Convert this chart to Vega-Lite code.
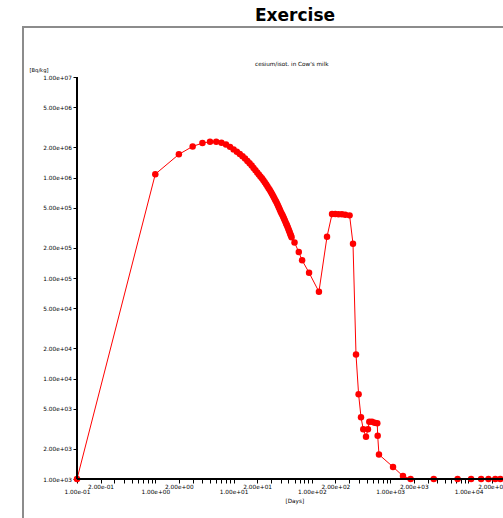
{
  "$schema": "https://vega.github.io/schema/vega-lite/v6.json",
  "autosize": "none",
  "padding": {"left": 23, "top": 27, "right": -5, "bottom": -5},
  "width": 485,
  "height": 496,
  "background": "white",
  "config": {
    "view": {"stroke": "#8c8c8c", "strokeWidth": 2},
    "font": "DejaVu Sans"
  },
  "title": {
    "text": "Exercise",
    "subtitle": "cesium/isot. in Cow's milk",
    "anchor": "start",
    "frame": "group",
    "dx": 232,
    "offset": -41,
    "font": "DejaVu Sans",
    "fontSize": 17,
    "fontWeight": "bold",
    "color": "black",
    "subtitleFont": "DejaVu Sans",
    "subtitleFontSize": 5.7,
    "subtitleColor": "black",
    "subtitlePadding": 36
  },
  "data": {
    "values": [
      {"day": 0.1, "value": 1000},
      {"day": 1, "value": 1080000},
      {"day": 2, "value": 1700000},
      {"day": 3, "value": 2040000},
      {"day": 4, "value": 2200000},
      {"day": 5, "value": 2270000},
      {"day": 6, "value": 2270000},
      {"day": 7, "value": 2213000},
      {"day": 8, "value": 2128000},
      {"day": 9, "value": 2018000},
      {"day": 10, "value": 1905000},
      {"day": 11, "value": 1807000},
      {"day": 12, "value": 1714000},
      {"day": 13, "value": 1626000},
      {"day": 14, "value": 1542000},
      {"day": 15, "value": 1462000},
      {"day": 16, "value": 1387000},
      {"day": 17, "value": 1315000},
      {"day": 18, "value": 1247000},
      {"day": 19, "value": 1183000},
      {"day": 20, "value": 1122000},
      {"day": 21, "value": 1074000},
      {"day": 22, "value": 1026000},
      {"day": 23, "value": 981700},
      {"day": 24, "value": 937600},
      {"day": 25, "value": 897400},
      {"day": 26, "value": 857000},
      {"day": 27, "value": 820400},
      {"day": 28, "value": 783400},
      {"day": 29, "value": 749900},
      {"day": 30, "value": 716100},
      {"day": 31, "value": 685500},
      {"day": 32, "value": 654600},
      {"day": 33, "value": 626600},
      {"day": 34, "value": 598400},
      {"day": 35, "value": 572800},
      {"day": 36, "value": 547000},
      {"day": 37, "value": 523600},
      {"day": 38, "value": 500000},
      {"day": 39, "value": 478600},
      {"day": 40, "value": 457100},
      {"day": 41, "value": 439500},
      {"day": 42, "value": 422700},
      {"day": 43, "value": 406400},
      {"day": 44, "value": 390800},
      {"day": 45, "value": 375800},
      {"day": 46, "value": 361400},
      {"day": 47, "value": 347500},
      {"day": 48, "value": 334200},
      {"day": 49, "value": 321400},
      {"day": 50, "value": 309000},
      {"day": 51, "value": 297200},
      {"day": 52, "value": 285800},
      {"day": 53, "value": 274800},
      {"day": 54, "value": 264200},
      {"day": 55, "value": 254100},
      {"day": 60, "value": 226000},
      {"day": 68, "value": 181000},
      {"day": 75, "value": 150000},
      {"day": 92, "value": 113000},
      {"day": 123, "value": 73000},
      {"day": 156, "value": 258000},
      {"day": 181, "value": 434000},
      {"day": 199, "value": 433000},
      {"day": 219, "value": 432000},
      {"day": 242, "value": 430000},
      {"day": 267, "value": 427000},
      {"day": 303, "value": 420000},
      {"day": 335, "value": 219000},
      {"day": 366, "value": 17300},
      {"day": 395, "value": 6960},
      {"day": 424, "value": 4110},
      {"day": 453, "value": 3120},
      {"day": 491, "value": 2640},
      {"day": 520, "value": 3120},
      {"day": 541, "value": 3720},
      {"day": 585, "value": 3720},
      {"day": 632, "value": 3630},
      {"day": 684, "value": 3580},
      {"day": 692, "value": 2700},
      {"day": 719, "value": 1750},
      {"day": 1087, "value": 1320},
      {"day": 1456, "value": 1070},
      {"day": 1823, "value": 1000},
      {"day": 3600, "value": 1000},
      {"day": 7260, "value": 1000},
      {"day": 10800, "value": 1000},
      {"day": 14500, "value": 1000},
      {"day": 18000, "value": 1000},
      {"day": 22000, "value": 1000},
      {"day": 25500, "value": 1000}
    ]
  },
  "resolve": {"axis": {"x": "independent", "y": "independent"}},
  "layer": [
    {
      "mark": {
        "type": "line",
        "color": "#ff0000",
        "strokeWidth": 1,
        "point": {"filled": true, "color": "#ff0000", "size": 42, "opacity": 1}
      },
      "encoding": {
        "x": {
          "field": "day",
          "type": "quantitative",
          "scale": {"type": "log", "domain": [0.020431, 31960], "nice": false},
          "axis": {
            "orient": "bottom",
            "offset": -44,
            "domain": false,
            "grid": false,
            "title": "[Days]",
            "titleFont": "DejaVu Sans",
            "titleFontSize": 5.7,
            "titleFontWeight": "normal",
            "titleColor": "black",
            "titleAlign": "left",
            "titleBaseline": "alphabetic",
            "titleX": 262,
            "titleY": 23,
            "values": [0.1, 0.2, 0.3, 0.4, 0.5, 0.6, 0.7, 0.8, 0.9, 1, 2, 3, 4, 5, 6, 7, 8, 9, 10, 20, 30, 40, 50, 60, 70, 80, 90, 100, 200, 300, 400, 500, 600, 700, 800, 900, 1000, 2000, 3000, 4000, 5000, 6000, 7000, 8000, 9000, 10000, 20000],
            "labelExpr": "round(datum.value / pow(10, floor(log(datum.value) / LN10 + 0.000001))) <= 2 ? replace(replace(format(datum.value, '.2e'), 'e+', 'e+0'), 'e-', 'e-0') : ''",
            "labelFont": "DejaVu Sans",
            "labelFontSize": 5.8,
            "labelColor": "black",
            "labelPadding": {"condition": {"test": "round(datum.value / pow(10, floor(log(datum.value) / LN10 + 0.000001))) == 2", "value": 0.5}, "value": 5},
            "labelBaseline": "top",
            "labelFlush": false,
            "labelOverlap": false,
            "labelBound": false,
            "tickColor": "black",
            "tickSize": 4,
            "encode": {
              "ticks": {
                "update": {
                  "y": {"value": -3},
                  "y2": {"signal": "abs(log(datum.value) / LN10 - round(log(datum.value) / LN10)) < 0.001 ? 5 : (round(datum.value / pow(10, floor(log(datum.value) / LN10 + 0.000001))) == 2 ? 1 : 0)"}
                }
              }
            }
          }
        },
        "y": {
          "field": "value",
          "type": "quantitative",
          "scale": {"type": "log", "domain": [365.0, 31450000], "nice": false},
          "axis": {
            "orient": "left",
            "offset": -54,
            "domain": false,
            "grid": false,
            "title": "[Bq/kg]",
            "titleFont": "DejaVu Sans",
            "titleFontSize": 5.2,
            "titleFontWeight": "normal",
            "titleColor": "black",
            "titleAngle": 0,
            "titleAlign": "left",
            "titleBaseline": "alphabetic",
            "titleX": -48,
            "titleY": 44.5,
            "values": [1000, 2000, 5000, 10000, 20000, 50000, 100000, 200000, 500000, 1000000, 2000000, 5000000, 10000000],
            "labelExpr": "replace(replace(format(datum.value, '.2e'), 'e+', 'e+0'), 'e-', 'e-0')",
            "labelFont": "DejaVu Sans",
            "labelFontSize": 5.8,
            "labelColor": "black",
            "labelPadding": 1.5,
            "labelOverlap": false,
            "labelBound": false,
            "labelFlush": false,
            "tickColor": "black",
            "tickSize": 4
          }
        }
      }
    },
    {
      "mark": {"type": "rule", "color": "black", "strokeWidth": 1},
      "encoding": {
        "x": {"datum": 0.1, "type": "quantitative", "axis": null},
        "x2": {"datum": 31960},
        "y": {"datum": 1000, "type": "quantitative", "axis": null}
      }
    },
    {
      "mark": {"type": "rule", "color": "black", "strokeWidth": 1},
      "encoding": {
        "x": {"datum": 0.1, "type": "quantitative", "axis": null},
        "y": {"datum": 1000, "type": "quantitative", "axis": null},
        "y2": {"datum": 10000000}
      }
    }
  ]
}
